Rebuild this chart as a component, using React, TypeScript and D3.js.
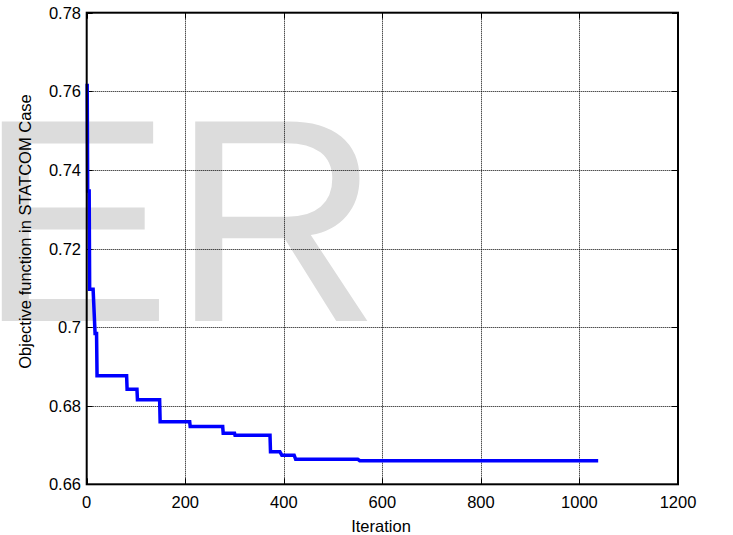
import React from "react";
import * as d3 from "d3";

const iterations = [1, 2, 5, 6, 13, 17, 20, 21, 81, 82, 102, 103, 148, 149, 209, 210, 276, 277, 300, 301, 372, 373, 392, 396, 421, 424, 550, 554, 1038];
const objective = [0.7619, 0.7346, 0.7346, 0.7096, 0.7096, 0.6984, 0.6984, 0.6876, 0.6876, 0.6842, 0.6842, 0.6815, 0.6815, 0.6759, 0.6759, 0.6747, 0.6747, 0.673, 0.673, 0.6725, 0.6725, 0.6683, 0.6683, 0.6674, 0.6674, 0.6664, 0.6664, 0.666, 0.666];
const xTicks = [0, 200, 400, 600, 800, 1000, 1200];
const yTicks = [0.66, 0.68, 0.7, 0.72, 0.74, 0.76, 0.78];
const yTickLabels = ["0.66", "0.68", "0.7", "0.72", "0.74", "0.76", "0.78"];

const W = 733;
const H = 535;
const L = 86.7, R = 678, T = 12.7, B = 484.3;
const FONT = "'Liberation Sans', Arial, sans-serif";
const snap = (v: number) => Math.round(v) + 0.5;

export default function App() {
  const x = d3.scaleLinear().domain([0, 1200]).range([L, R]);
  const y = d3.scaleLinear().domain([0.66, 0.78]).range([B, T]);
  const pts = iterations.map((it, i) => [it, objective[i]] as [number, number]);
  const line = d3.line<[number, number]>().x((d) => x(d[0])).y((d) => y(d[1]));
  const tl = 6;

  return (
    <svg width={W} height={H} style={{ position: "absolute", left: 0, top: 0, background: "#fff" }} fontFamily={FONT}>
      <rect x={0} y={0} width={W} height={H} fill="#fff" />
      <text x={-22} y={321} fontSize={290} fill="#dcdcdc" fontFamily={FONT}>ER</text>
      {/* grid */}
      {xTicks.slice(1, -1).map((t) => (
        <line key={"gx" + t} x1={snap(x(t))} x2={snap(x(t))} y1={T} y2={B} stroke="#000" strokeWidth={1} strokeDasharray="1,1" />
      ))}
      {yTicks.slice(1, -1).map((t) => (
        <line key={"gy" + t} x1={L} x2={R} y1={snap(y(t))} y2={snap(y(t))} stroke="#000" strokeWidth={1} strokeDasharray="1,1" />
      ))}
      {/* ticks */}
      {xTicks.map((t) => (
        <g key={"tx" + t}>
          <line x1={snap(x(t))} x2={snap(x(t))} y1={B} y2={B - tl} stroke="#000" strokeWidth={1} />
          <line x1={snap(x(t))} x2={snap(x(t))} y1={T} y2={T + tl} stroke="#000" strokeWidth={1} />
          <text x={x(t)} y={508} fontSize={16.5} textAnchor="middle" fill="#000">{t}</text>
        </g>
      ))}
      {yTicks.map((t, i) => (
        <g key={"ty" + t}>
          <line x1={L} x2={L + tl} y1={snap(y(t))} y2={snap(y(t))} stroke="#000" strokeWidth={1} />
          <line x1={R} x2={R - tl} y1={snap(y(t))} y2={snap(y(t))} stroke="#000" strokeWidth={1} />
          <text x={81} y={y(t) + 6} fontSize={16.5} textAnchor="end" fill="#000">{yTickLabels[i]}</text>
        </g>
      ))}
      {/* data */}
      <path d={line(pts) || ""} fill="none" stroke="#0000ff" strokeWidth={3.5} strokeLinejoin="miter" />
      {/* box */}
      <rect x={L} y={T} width={R - L} height={B - T} fill="none" stroke="#000" strokeWidth={2} />
      {/* labels */}
      <text x={381} y={532} fontSize={16.5} textAnchor="middle" fill="#000">Iteration</text>
      <text transform={`translate(31,231.5) rotate(-90)`} fontSize={16.5} textAnchor="middle" fill="#000">Objective function in STATCOM Case</text>
    </svg>
  );
}
